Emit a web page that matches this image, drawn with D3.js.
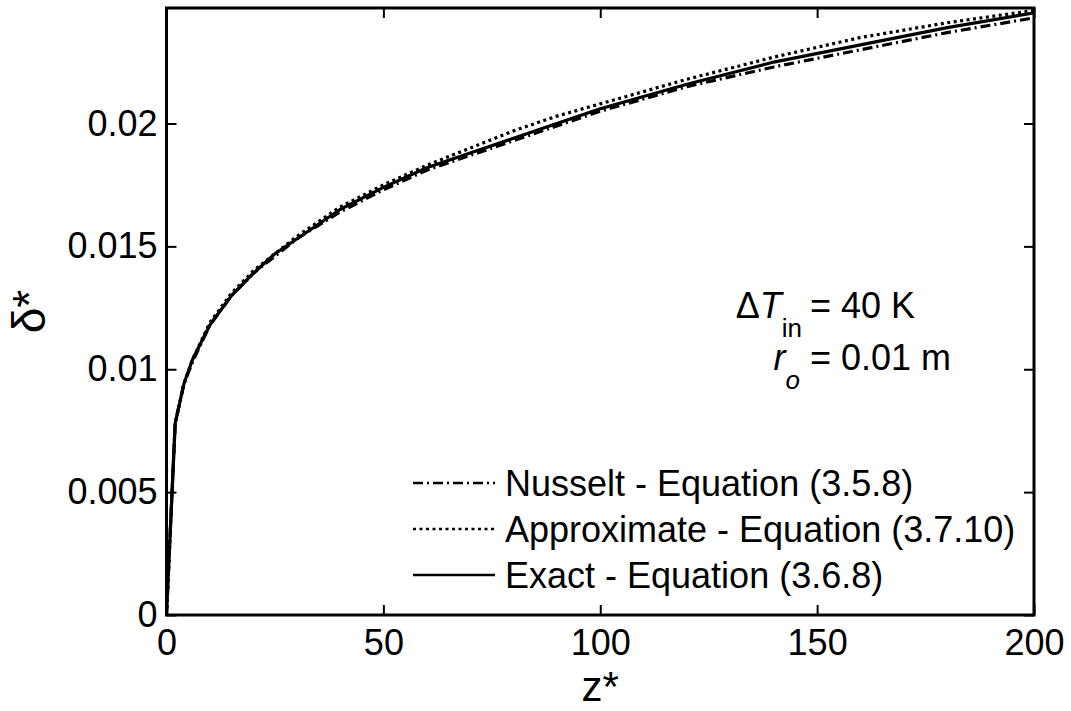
<!DOCTYPE html>
<html>
<head>
<meta charset="utf-8">
<script src="https://cdn.jsdelivr.net/npm/d3@7"></script>
<style>
  html, body { margin: 0; padding: 0; background: #fff; }
  svg { display: block; font-family: "Liberation Sans", Arial, sans-serif; }
</style>
</head>
<body>
<svg id="chart" width="1071" height="711"></svg>
<script>
// Dimensionless axial position z* and film thickness δ* for the three solutions
const zStar = [0, 2, 4, 6, 10, 15, 20, 25, 30, 40, 50, 60, 70, 80, 90, 100, 120, 140, 160, 180, 200];
const deltaNusselt = [0, 0.0078, 0.0094, 0.0103, 0.0118, 0.0130, 0.0139, 0.0146, 0.0153, 0.0164, 0.0173, 0.0181, 0.0187, 0.0193, 0.0199, 0.0205, 0.0215, 0.0223, 0.0230, 0.0237, 0.0243];
const deltaApprox   = [0, 0.0078, 0.0094, 0.0104, 0.0119, 0.0131, 0.0140, 0.0147, 0.0154, 0.0166, 0.0175, 0.0183, 0.0190, 0.0197, 0.0203, 0.0208, 0.0218, 0.0227, 0.0235, 0.0241, 0.0246];
const deltaExact    = [0, 0.0078, 0.0094, 0.0104, 0.0118, 0.0130, 0.0139, 0.0147, 0.0153, 0.0165, 0.0174, 0.0182, 0.0188, 0.0194, 0.0200, 0.0206, 0.0216, 0.0225, 0.0232, 0.0239, 0.0245];

const xTicks = [0, 50, 100, 150, 200];
const yTicks = [0, 0.005, 0.01, 0.015, 0.02];
const yTickLabels = ["0", "0.005", "0.01", "0.015", "0.02"];

const seriesNames = ["Nusselt - Equation (3.5.8)", "Approximate - Equation (3.7.10)", "Exact - Equation (3.6.8)"];
const seriesValues = [deltaNusselt, deltaApprox, deltaExact];
const seriesDash = ["10,4,2,4", "3,3.5", null];

const svg = d3.select("#chart");
const L = 166.5, R = 1034, T = 8, B = 615;

const x = d3.scaleLinear().domain([0, 200]).range([L, R]);
const y = d3.scaleLinear().domain([0, 0.0247]).range([B, T]);

svg.append("rect").attr("width", 1071).attr("height", 711).attr("fill", "#fff");

// inward ticks on all four sides
function styleAxis(g) {
  g.select(".domain").remove();
  g.selectAll(".tick line").attr("stroke", "#000").attr("stroke-width", 2);
  g.selectAll(".tick text").attr("fill", "#000").attr("font-size", 36)
    .attr("font-family", "Liberation Sans, Arial, sans-serif");
}

svg.append("g").attr("transform", `translate(0,${B})`)
  .call(d3.axisBottom(x).tickValues(xTicks).tickSizeInner(-10).tickSizeOuter(0).tickPadding(14).tickFormat(d3.format("d")))
  .call(styleAxis);
svg.append("g").attr("transform", `translate(0,${T})`)
  .call(d3.axisTop(x).tickValues(xTicks).tickSizeInner(-10).tickSizeOuter(0).tickFormat(""))
  .call(styleAxis);
svg.append("g").attr("transform", `translate(${L},0)`)
  .call(d3.axisLeft(y).tickValues(yTicks).tickSizeInner(-10).tickSizeOuter(0).tickPadding(9)
    .tickFormat((d, i) => yTickLabels[i]))
  .call(styleAxis);
svg.append("g").attr("transform", `translate(${R},0)`)
  .call(d3.axisRight(y).tickValues(yTicks).tickSizeInner(-10).tickSizeOuter(0).tickFormat(""))
  .call(styleAxis);

// curves
svg.append("clipPath").attr("id", "plotClip")
  .append("rect").attr("x", L).attr("y", T - 4).attr("width", R - L).attr("height", B - T + 4);

const line = d3.line().x(d => x(d[0])).y(d => y(d[1]));
seriesValues.forEach((vals, i) => {
  const pts = zStar.map((z, k) => [z, vals[k]]);
  svg.append("path")
    .attr("d", line(pts))
    .attr("fill", "none")
    .attr("stroke", "#000")
    .attr("stroke-width", 3.2)
    .attr("stroke-linejoin", "round")
    .attr("stroke-dasharray", seriesDash[i])
    .attr("clip-path", "url(#plotClip)");
});

// frame
svg.append("rect").attr("x", L).attr("y", T).attr("width", R - L).attr("height", B - T)
  .attr("fill", "none").attr("stroke", "#000").attr("stroke-width", 3);

// legend
const legendY = [483, 529, 575];
seriesNames.forEach((name, i) => {
  svg.append("line")
    .attr("x1", 413).attr("x2", 495).attr("y1", legendY[i]).attr("y2", legendY[i])
    .attr("stroke", "#000").attr("stroke-width", 2.5)
    .attr("stroke-dasharray", seriesDash[i]);
  svg.append("text")
    .attr("x", 505).attr("y", legendY[i] + 13)
    .attr("font-size", 36).attr("fill", "#000")
    .text(name);
});

// parameter annotation: symbols right-aligned, "=" signs aligned
const eqX = 810;
const a1 = svg.append("text").attr("x", eqX - 8).attr("y", 318).attr("font-size", 36).attr("text-anchor", "end");
a1.append("tspan").text("\u0394");
a1.append("tspan").attr("font-style", "italic").text("T");
a1.append("tspan").attr("font-size", 26).attr("dy", 19).text("in");
svg.append("text").attr("x", eqX).attr("y", 318).attr("font-size", 36).text("= 40 K");

const a2 = svg.append("text").attr("x", eqX - 10).attr("y", 370).attr("font-size", 36).attr("text-anchor", "end");
a2.append("tspan").attr("font-style", "italic").text("r");
a2.append("tspan").attr("font-size", 26).attr("font-style", "italic").attr("dy", 19).text("o");
svg.append("text").attr("x", eqX).attr("y", 370).attr("font-size", 36).text("= 0.01 m");

// axis titles
svg.append("text").attr("x", (L + R) / 2).attr("y", 701).attr("text-anchor", "middle")
  .attr("font-size", 42).text("z*");
svg.append("text").attr("transform", `translate(45,${(T + B) / 2}) rotate(-90)`)
  .attr("text-anchor", "middle").attr("font-size", 46).text("\u03b4*");
</script>
</body>
</html>
